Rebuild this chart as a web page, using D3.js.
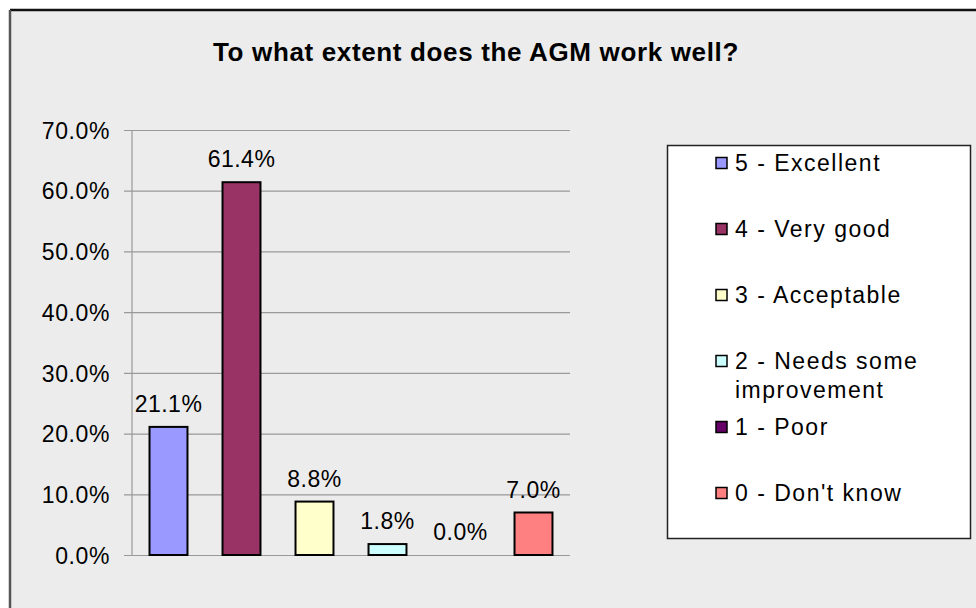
<!DOCTYPE html>
<html>
<head>
<meta charset="utf-8">
<script src="https://cdn.jsdelivr.net/npm/d3@7/dist/d3.min.js"></script>
<style>
  html, body { margin: 0; padding: 0; background: #ffffff; }
  svg { display: block; }
  text { font-family: "Liberation Sans", Arial, sans-serif; fill: #000; }
</style>
</head>
<body>
<svg id="chart" width="976" height="608"></svg>
<script>
// Survey answers and their share of respondents (%)
const categories = ["5 - Excellent", "4 - Very good", "3 - Acceptable", "2 - Needs some improvement", "1 - Poor", "0 - Don't know"];
const values = [21.1, 61.4, 8.8, 1.8, 0.0, 7.0];
const colors = ["#9999FF", "#993366", "#FFFFCC", "#CCFFFF", "#660066", "#FF8080"];
const legendLines = [["5 - Excellent"], ["4 - Very good"], ["3 - Acceptable"], ["2 - Needs some", "improvement"], ["1 - Poor"], ["0 - Don't know"]];
const yTicks = [0, 10, 20, 30, 40, 50, 60, 70];
const title = "To what extent does the AGM work well?";

const svg = d3.select("#chart");

// chart frame
svg.append("rect").attr("x", 10).attr("y", 10).attr("width", 1000).attr("height", 700)
  .attr("fill", "#ececec");
svg.append("line").attr("x1", 10).attr("x2", 976).attr("y1", 10).attr("y2", 10)
  .attr("stroke", "#111").attr("stroke-width", 2.5);
svg.append("line").attr("x1", 10).attr("x2", 10).attr("y1", 10).attr("y2", 608)
  .attr("stroke", "#555").attr("stroke-width", 2.5);

// title
svg.append("text").attr("x", 476).attr("y", 61)
  .attr("text-anchor", "middle")
  .style("font-size", "26px").style("font-weight", "bold").style("letter-spacing", "0.65px")
  .text(title);

const plot = { left: 132, right: 570, top: 130, bottom: 555 };

const x = d3.scaleBand().domain(categories)
  .range([plot.left, plot.right]).paddingInner(0.48).paddingOuter(0.24);
const y = d3.scaleLinear().domain([0, 70]).range([plot.bottom, plot.top]);

// gridlines + tick labels via an axis
const yAxis = d3.axisLeft(y).tickValues(yTicks)
  .tickSize(-(plot.right - plot.left)).tickPadding(22)
  .tickFormat(d => d.toFixed(1) + "%");
const gy = svg.append("g").attr("transform", `translate(${plot.left},0)`).call(yAxis);
gy.select(".domain").remove();
gy.selectAll(".tick line").attr("stroke", "#999").attr("stroke-width", 1.2).attr("x1", -8);
gy.selectAll(".tick text")
  .style("font-size", "23px").style("letter-spacing", "0.6px")
  .attr("fill", "#000").attr("dy", "0.36em");
// vertical axis line
svg.append("line").attr("x1", plot.left).attr("x2", plot.left)
  .attr("y1", plot.top).attr("y2", plot.bottom)
  .attr("stroke", "#999").attr("stroke-width", 1.2);

// bars
svg.append("g").selectAll("rect").data(values).join("rect")
  .attr("x", (d, i) => x(categories[i]))
  .attr("y", d => y(d))
  .attr("width", x.bandwidth())
  .attr("height", d => y(0) - y(d))
  .attr("fill", (d, i) => colors[i])
  .attr("stroke", "#000").attr("stroke-width", 2);

// value labels
svg.append("g").selectAll("text").data(values).join("text")
  .attr("x", (d, i) => x(categories[i]) + x.bandwidth() / 2)
  .attr("y", d => y(d) - 15)
  .attr("text-anchor", "middle")
  .style("font-size", "23px").style("letter-spacing", "0.5px")
  .text(d => d.toFixed(1) + "%");

// legend
const lg = svg.append("g");
lg.append("rect").attr("x", 667.5).attr("y", 145.5).attr("width", 303).attr("height", 393)
  .attr("fill", "#fff").attr("stroke", "#222").attr("stroke-width", 1.5);
const itemY = d3.scalePoint().domain(categories).range([163, 493]);
const items = lg.selectAll("g.item").data(categories).join("g").attr("class", "item")
  .attr("transform", d => `translate(0,${itemY(d)})`);
items.append("rect").attr("x", 716).attr("y", -5.5).attr("width", 11).attr("height", 11)
  .attr("fill", (d, i) => colors[i]).attr("stroke", "#000").attr("stroke-width", 1.5);
items.each(function (d, i) {
  const t = d3.select(this).append("text").attr("x", 735)
    .style("font-size", "23px").style("letter-spacing", "1.5px");
  legendLines[i].forEach((line, j) => {
    t.append("tspan").attr("x", 735).attr("y", j * 29).attr("dy", "0.36em").text(line);
  });
});
</script>
</body>
</html>
